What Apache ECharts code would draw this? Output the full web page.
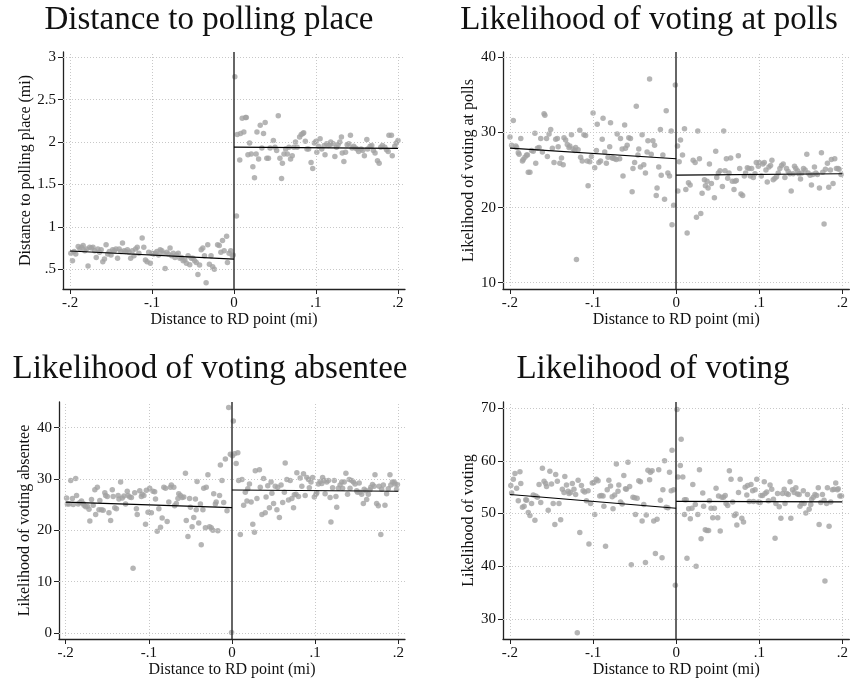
<!DOCTYPE html>
<html>
<head>
<meta charset="utf-8">
<title>Regression discontinuity at the polling-place boundary</title>
<script src="https://cdn.jsdelivr.net/npm/echarts@6/dist/echarts.min.js"></script>
<style>
  html, body { margin: 0; padding: 0; background: #fff; }
  #chart { width: 851px; height: 679px; }
</style>
</head>
<body>
<div id="chart"></div>
<script>
// Shared x ticks: distance to the RD point (mi)
const xTicks = [-0.2, -0.1, 0, 0.1, 0.2];

// Panel titles and axis titles
const panelTitles = ['Distance to polling place', 'Likelihood of voting at polls',
                     'Likelihood of voting absentee', 'Likelihood of voting'];
const yTitles = ['Distance to polling place (mi)', 'Likelihood of voting at polls',
                 'Likelihood of voting absentee', 'Likelihood of voting'];
const xTitle = 'Distance to RD point (mi)';

// Y tick values per panel
const distTicks = [0.5, 1, 1.5, 2, 2.5, 3];
const pollsTicks = [10, 20, 30, 40];
const absTicks = [0, 10, 20, 30, 40];
const voteTicks = [30, 40, 50, 60, 70];

// Binned means: distance to polling place
const distLeft = [[-0.199,0.69],[-0.197,0.60],[-0.195,0.71],[-0.193,0.68],[-0.190,0.77],[-0.188,0.74],[-0.186,0.76],[-0.184,0.78],[-0.182,0.72],[-0.180,0.74],[-0.178,0.54],[-0.176,0.76],[-0.174,0.75],[-0.172,0.76],[-0.170,0.72],[-0.168,0.64],[-0.166,0.74],[-0.164,0.70],[-0.162,0.73],[-0.160,0.59],[-0.158,0.62],[-0.156,0.79],[-0.154,0.68],[-0.152,0.71],[-0.150,0.67],[-0.148,0.73],[-0.146,0.72],[-0.144,0.74],[-0.142,0.63],[-0.140,0.74],[-0.138,0.71],[-0.136,0.81],[-0.134,0.72],[-0.132,0.71],[-0.130,0.73],[-0.128,0.70],[-0.126,0.63],[-0.124,0.72],[-0.122,0.66],[-0.120,0.74],[-0.118,0.76],[-0.116,0.69],[-0.112,0.87],[-0.110,0.76],[-0.108,0.61],[-0.106,0.59],[-0.104,0.70],[-0.102,0.57],[-0.100,0.69],[-0.098,0.68],[-0.096,0.69],[-0.094,0.71],[-0.092,0.67],[-0.090,0.73],[-0.088,0.72],[-0.086,0.69],[-0.084,0.51],[-0.082,0.70],[-0.080,0.68],[-0.078,0.75],[-0.076,0.66],[-0.074,0.69],[-0.072,0.64],[-0.070,0.67],[-0.068,0.69],[-0.066,0.63],[-0.064,0.64],[-0.062,0.60],[-0.060,0.61],[-0.058,0.57],[-0.056,0.66],[-0.054,0.555],[-0.052,0.63],[-0.050,0.63],[-0.048,0.60],[-0.046,0.58],[-0.044,0.44],[-0.042,0.55],[-0.040,0.73],[-0.038,0.75],[-0.036,0.66],[-0.034,0.34],[-0.032,0.79],[-0.030,0.56],[-0.028,0.66],[-0.026,0.53],[-0.024,0.50],[-0.020,0.79],[-0.018,0.78],[-0.016,0.70],[-0.014,0.84],[-0.012,0.72],[-0.009,0.89],[-0.008,0.58],[-0.006,0.69],[-0.004,0.72],[-0.002,0.66],[-0.001,0.67]];
const distRight = [[0.001,2.77],[0.003,1.13],[0.004,2.09],[0.007,1.79],[0.008,2.10],[0.010,2.28],[0.012,2.12],[0.014,2.29],[0.015,2.29],[0.017,1.85],[0.019,1.99],[0.021,1.86],[0.023,1.71],[0.025,1.58],[0.027,1.86],[0.028,2.12],[0.030,1.80],[0.032,2.20],[0.034,1.93],[0.036,2.10],[0.038,2.23],[0.040,1.81],[0.042,1.81],[0.044,1.93],[0.048,2.02],[0.050,1.94],[0.052,1.90],[0.054,2.31],[0.056,1.81],[0.058,1.57],[0.059,1.75],[0.061,1.86],[0.063,1.92],[0.065,1.86],[0.067,1.94],[0.069,1.80],[0.071,1.84],[0.073,1.94],[0.075,2.00],[0.077,1.94],[0.080,2.06],[0.082,2.09],[0.084,2.10],[0.085,2.11],[0.087,2.01],[0.089,1.92],[0.091,1.92],[0.094,1.76],[0.096,1.69],[0.098,1.99],[0.100,2.01],[0.101,1.88],[0.103,1.95],[0.105,2.04],[0.107,1.92],[0.110,1.96],[0.111,1.85],[0.113,1.98],[0.115,1.96],[0.117,1.97],[0.118,2.00],[0.121,1.98],[0.123,1.83],[0.125,1.94],[0.127,1.97],[0.129,2.00],[0.131,2.06],[0.132,1.87],[0.134,1.77],[0.136,1.88],[0.138,1.97],[0.140,1.98],[0.142,2.08],[0.144,1.93],[0.146,1.95],[0.148,1.93],[0.150,1.92],[0.152,1.89],[0.155,1.92],[0.157,1.90],[0.159,1.84],[0.162,2.03],[0.163,1.92],[0.166,1.95],[0.168,1.96],[0.170,1.90],[0.172,1.87],[0.175,1.78],[0.177,1.75],[0.179,1.94],[0.181,1.96],[0.184,1.94],[0.186,1.91],[0.188,1.89],[0.189,2.08],[0.192,2.08],[0.193,1.84],[0.196,1.95],[0.198,1.99],[0.200,2.02]];
const distFitLeft = [[-0.2,0.716],[0,0.62]];
const distFitRight = [[0,1.94],[0.2,1.927]];

// Binned means: likelihood of voting at polls
const pollsLeft = [[-0.200,29.4],[-0.198,28.3],[-0.196,31.6],[-0.193,28.2],[-0.192,28.0],[-0.190,27.3],[-0.189,27.1],[-0.187,29.2],[-0.185,26.2],[-0.184,26.4],[-0.182,26.7],[-0.180,27.0],[-0.179,27.0],[-0.178,24.7],[-0.176,24.7],[-0.174,27.6],[-0.172,27.5],[-0.170,29.9],[-0.169,25.9],[-0.167,27.9],[-0.165,28.0],[-0.163,29.2],[-0.161,27.4],[-0.159,32.5],[-0.158,32.3],[-0.156,29.2],[-0.155,26.8],[-0.153,29.8],[-0.151,30.4],[-0.149,27.9],[-0.147,26.0],[-0.145,29.1],[-0.143,29.2],[-0.142,28.1],[-0.140,25.9],[-0.138,26.6],[-0.136,25.7],[-0.135,29.3],[-0.133,29.0],[-0.131,28.4],[-0.129,28.0],[-0.128,28.2],[-0.126,29.7],[-0.124,27.8],[-0.122,27.6],[-0.121,28.0],[-0.120,13.1],[-0.118,27.7],[-0.116,30.3],[-0.115,26.7],[-0.113,26.2],[-0.111,29.7],[-0.109,29.6],[-0.107,26.2],[-0.106,22.9],[-0.104,26.1],[-0.102,26.8],[-0.100,32.6],[-0.098,25.3],[-0.096,27.6],[-0.095,31.1],[-0.093,26.0],[-0.091,26.2],[-0.089,29.1],[-0.088,31.9],[-0.086,27.4],[-0.084,25.9],[-0.082,26.7],[-0.080,28.1],[-0.079,31.3],[-0.077,26.6],[-0.076,26.6],[-0.074,26.5],[-0.072,26.4],[-0.071,29.8],[-0.068,26.5],[-0.067,29.2],[-0.065,27.8],[-0.064,24.2],[-0.062,31.0],[-0.061,27.9],[-0.059,28.3],[-0.057,29.3],[-0.055,29.2],[-0.053,22.1],[-0.052,25.2],[-0.050,26.0],[-0.048,33.5],[-0.046,27.0],[-0.045,27.8],[-0.043,25.4],[-0.041,29.7],[-0.039,25.7],[-0.037,24.6],[-0.035,27.4],[-0.034,28.9],[-0.032,37.1],[-0.030,27.1],[-0.028,28.9],[-0.026,28.3],[-0.024,21.6],[-0.023,22.6],[-0.021,25.4],[-0.019,30.4],[-0.018,24.3],[-0.016,27.0],[-0.014,21.1],[-0.012,32.9],[-0.010,24.6],[-0.008,24.2],[-0.006,30.2],[-0.005,17.7],[-0.003,20.3],[-0.001,36.3]];
const pollsRight = [[0.0016,28.2],[0.0052,29.0],[0.0036,26.1],[0.0076,27.0],[0.010,30.5],[0.002,22.2],[0.0116,22.4],[0.0148,23.3],[0.0168,23.0],[0.0204,26.3],[0.0228,26.0],[0.026,30.2],[0.028,26.5],[0.0244,18.7],[0.0296,19.2],[0.0132,16.6],[0.0312,21.9],[0.034,23.7],[0.0352,22.9],[0.0372,23.5],[0.0384,22.6],[0.040,25.8],[0.0424,23.2],[0.046,21.3],[0.0476,27.5],[0.0488,24.0],[0.0508,24.6],[0.0528,24.9],[0.0556,22.8],[0.0572,30.2],[0.0588,24.9],[0.0604,26.5],[0.062,23.9],[0.0636,24.6],[0.0656,26.6],[0.0676,23.5],[0.0696,22.4],[0.0708,23.5],[0.0724,23.6],[0.0748,26.9],[0.0764,25.2],[0.078,21.8],[0.080,21.6],[0.082,24.2],[0.0836,24.6],[0.0856,25.3],[0.0876,25.2],[0.0892,24.2],[0.0908,25.2],[0.0928,24.0],[0.0948,24.5],[0.0964,26.0],[0.0988,25.5],[0.100,26.0],[0.1024,24.2],[0.1044,25.8],[0.106,26.0],[0.108,25.0],[0.1096,23.4],[0.1116,25.4],[0.1136,25.6],[0.1152,26.3],[0.1168,23.7],[0.1188,23.9],[0.1208,24.1],[0.1228,24.6],[0.1248,25.2],[0.1268,25.6],[0.1288,25.8],[0.1308,24.0],[0.1328,25.2],[0.1348,24.8],[0.1368,24.5],[0.1384,22.2],[0.1408,24.5],[0.1424,25.5],[0.144,25.2],[0.146,24.9],[0.1476,24.5],[0.1496,23.8],[0.1512,24.6],[0.1532,25.2],[0.1552,25.0],[0.1572,27.1],[0.1588,24.6],[0.1612,24.3],[0.1628,23.0],[0.1644,24.4],[0.1664,25.4],[0.168,24.6],[0.170,24.4],[0.1724,22.6],[0.1748,27.3],[0.1764,24.7],[0.178,17.8],[0.1796,25.1],[0.182,25.9],[0.1836,22.7],[0.1856,25.0],[0.1868,26.4],[0.1888,23.2],[0.1908,26.5],[0.1928,25.2],[0.1948,25.2],[0.196,25.1],[0.1984,24.4]];
const pollsFitLeft = [[-0.2,27.9],[0,26.5]];
const pollsFitRight = [[0,24.33],[0.2,24.5]];

// Binned means: likelihood of voting absentee
const absLeft = [[-0.199,26.3],[-0.198,25.1],[-0.196,25.1],[-0.194,29.7],[-0.192,26.2],[-0.191,25.0],[-0.188,30.1],[-0.187,26.8],[-0.185,25.1],[-0.183,25.4],[-0.181,25.7],[-0.179,25.2],[-0.178,24.9],[-0.176,24.6],[-0.174,24.7],[-0.172,24.1],[-0.171,21.8],[-0.169,26.0],[-0.167,24.9],[-0.165,27.9],[-0.164,23.1],[-0.162,28.4],[-0.160,24.0],[-0.159,25.8],[-0.157,24.0],[-0.155,23.9],[-0.153,27.3],[-0.152,26.8],[-0.150,26.6],[-0.148,23.4],[-0.146,21.9],[-0.144,27.9],[-0.143,26.6],[-0.141,24.4],[-0.139,24.2],[-0.137,26.8],[-0.136,26.1],[-0.134,29.4],[-0.132,26.3],[-0.130,26.7],[-0.128,25.1],[-0.126,27.6],[-0.125,26.8],[-0.123,26.5],[-0.121,26.4],[-0.119,12.6],[-0.117,27.3],[-0.115,24.2],[-0.114,23.1],[-0.111,27.7],[-0.109,26.6],[-0.108,27.0],[-0.106,26.8],[-0.104,21.2],[-0.103,27.8],[-0.101,23.5],[-0.099,28.2],[-0.097,23.4],[-0.095,27.6],[-0.093,27.5],[-0.092,26.1],[-0.090,19.8],[-0.088,24.2],[-0.086,20.6],[-0.084,22.4],[-0.082,28.4],[-0.080,28.2],[-0.078,21.7],[-0.076,25.5],[-0.074,28.4],[-0.073,28.8],[-0.070,28.4],[-0.069,24.8],[-0.067,25.2],[-0.065,26.2],[-0.064,27.1],[-0.062,26.8],[-0.060,26.4],[-0.058,26.5],[-0.056,31.1],[-0.055,21.9],[-0.053,18.8],[-0.051,26.2],[-0.050,24.5],[-0.048,20.7],[-0.046,22.5],[-0.044,26.1],[-0.043,24.0],[-0.042,29.5],[-0.040,21.4],[-0.038,25.1],[-0.037,17.2],[-0.035,24.0],[-0.034,28.2],[-0.032,20.5],[-0.031,28.4],[-0.029,30.8],[-0.027,20.7],[-0.025,20.5],[-0.023,20.0],[-0.022,27.1],[-0.020,25.1],[-0.019,25.5],[-0.017,19.9],[-0.015,26.8],[-0.014,32.7],[-0.012,29.7],[-0.010,25.4],[-0.008,33.9],[-0.006,23.8],[-0.004,43.9],[-0.002,34.8],[-0.0005,0.1]];
const absRight = [[0.0016,41.3],[0.0005,34.5],[0.003,34.9],[0.005,33.0],[0.007,35.1],[0.008,29.7],[0.010,19.2],[0.012,29.9],[0.014,24.9],[0.016,27.4],[0.018,25.7],[0.019,28.1],[0.021,29.0],[0.023,25.5],[0.025,21.2],[0.027,19.6],[0.028,31.6],[0.030,26.2],[0.033,31.8],[0.034,28.4],[0.036,23.1],[0.038,30.1],[0.040,23.4],[0.041,26.5],[0.043,28.7],[0.045,24.4],[0.047,29.4],[0.048,27.2],[0.050,25.2],[0.052,28.6],[0.054,24.0],[0.055,28.4],[0.057,22.5],[0.059,28.8],[0.061,25.4],[0.063,27.4],[0.064,33.1],[0.066,29.9],[0.068,25.9],[0.070,29.7],[0.072,26.2],[0.074,24.4],[0.075,26.9],[0.077,27.0],[0.078,31.2],[0.080,26.6],[0.082,30.2],[0.084,28.6],[0.086,31.0],[0.088,26.8],[0.090,30.3],[0.092,29.9],[0.093,28.3],[0.095,29.4],[0.097,30.3],[0.099,26.5],[0.101,27.0],[0.102,27.3],[0.104,29.0],[0.106,29.5],[0.108,29.1],[0.109,30.3],[0.111,29.7],[0.112,27.1],[0.114,29.4],[0.116,29.7],[0.118,26.4],[0.119,21.6],[0.121,28.3],[0.123,29.7],[0.125,26.6],[0.126,24.5],[0.128,28.2],[0.130,28.8],[0.132,29.4],[0.133,28.2],[0.135,29.4],[0.137,31.1],[0.139,27.0],[0.141,29.9],[0.142,28.2],[0.144,29.7],[0.146,29.4],[0.148,29.0],[0.150,27.7],[0.151,27.4],[0.153,29.2],[0.154,27.4],[0.156,27.0],[0.158,25.2],[0.159,28.0],[0.161,27.7],[0.162,26.0],[0.164,27.0],[0.166,27.9],[0.167,28.4],[0.169,28.9],[0.171,28.6],[0.172,30.8],[0.174,25.2],[0.176,24.8],[0.177,28.6],[0.179,19.2],[0.180,28.0],[0.182,28.8],[0.184,24.9],[0.186,27.1],[0.188,28.1],[0.190,30.8],[0.191,28.8],[0.193,29.4],[0.195,29.4],[0.196,29.0],[0.198,28.0],[0.199,28.9]];
const absFitLeft = [[-0.2,25.5],[0,24.4]];
const absFitRight = [[0,27.85],[0.2,27.6]];

// Binned means: likelihood of voting
const voteLeft = [[-0.199,55.3],[-0.198,53.9],[-0.196,56.5],[-0.194,57.6],[-0.192,54.8],[-0.190,52.4],[-0.188,57.9],[-0.187,55.7],[-0.185,51.2],[-0.183,51.4],[-0.181,52.6],[-0.180,52.5],[-0.178,50.2],[-0.176,49.6],[-0.174,51.9],[-0.172,53.5],[-0.170,48.7],[-0.169,53.3],[-0.167,53.1],[-0.165,55.5],[-0.163,52.1],[-0.161,58.6],[-0.159,56.1],[-0.157,55.7],[-0.156,55.1],[-0.154,50.6],[-0.152,58.0],[-0.150,55.6],[-0.148,51.9],[-0.146,47.9],[-0.145,57.4],[-0.143,56.1],[-0.141,51.9],[-0.139,48.8],[-0.137,54.6],[-0.135,54.0],[-0.134,57.0],[-0.132,55.4],[-0.130,54.2],[-0.129,53.8],[-0.127,54.0],[-0.125,55.7],[-0.123,54.6],[-0.121,53.6],[-0.119,27.4],[-0.118,56.3],[-0.116,46.4],[-0.114,55.3],[-0.112,54.3],[-0.110,54.1],[-0.108,52.4],[-0.106,54.3],[-0.105,44.2],[-0.103,51.9],[-0.101,55.8],[-0.099,55.9],[-0.098,49.8],[-0.096,56.5],[-0.094,56.2],[-0.092,53.3],[-0.090,53.4],[-0.088,53.3],[-0.087,51.4],[-0.085,43.8],[-0.083,54.5],[-0.081,56.3],[-0.079,55.2],[-0.077,53.2],[-0.076,50.9],[-0.074,53.5],[-0.072,59.4],[-0.070,54.2],[-0.069,55.4],[-0.067,52.2],[-0.065,51.8],[-0.063,57.2],[-0.061,54.7],[-0.060,54.6],[-0.058,59.7],[-0.056,55.1],[-0.054,40.3],[-0.052,53.1],[-0.050,53.0],[-0.049,49.8],[-0.047,52.9],[-0.045,56.2],[-0.043,56.0],[-0.041,48.6],[-0.039,51.7],[-0.037,40.7],[-0.036,49.7],[-0.034,58.2],[-0.032,56.4],[-0.031,57.8],[-0.029,58.1],[-0.027,48.6],[-0.025,42.4],[-0.023,48.9],[-0.021,58.3],[-0.019,52.5],[-0.017,41.6],[-0.016,54.5],[-0.014,60.0],[-0.012,51.2],[-0.010,51.1],[-0.008,57.8],[-0.006,54.3],[-0.005,62.0],[-0.003,54.5],[-0.001,36.4]];
const voteRight = [[0.001,69.7],[0.002,56.9],[0.005,59.1],[0.006,64.1],[0.008,56.9],[0.010,52.6],[0.012,52.6],[0.010,49.8],[0.013,41.5],[0.015,50.9],[0.017,49.0],[0.019,51.0],[0.020,55.5],[0.023,51.7],[0.024,40.0],[0.026,49.8],[0.028,58.3],[0.030,45.2],[0.032,53.9],[0.033,51.4],[0.035,46.9],[0.037,46.8],[0.039,46.8],[0.040,52.4],[0.042,51.0],[0.044,49.2],[0.046,51.0],[0.048,54.8],[0.050,49.2],[0.051,53.3],[0.053,46.7],[0.055,53.1],[0.057,53.1],[0.059,53.4],[0.060,51.9],[0.062,51.5],[0.064,58.1],[0.066,56.5],[0.068,52.2],[0.070,49.6],[0.072,49.9],[0.073,47.8],[0.075,54.0],[0.077,56.5],[0.079,49.1],[0.081,48.4],[0.083,55.0],[0.085,53.5],[0.086,55.3],[0.088,52.3],[0.090,55.5],[0.092,54.3],[0.093,52.3],[0.095,54.5],[0.097,56.5],[0.099,52.2],[0.101,52.1],[0.102,53.4],[0.104,53.4],[0.106,56.0],[0.107,53.8],[0.109,54.1],[0.111,52.4],[0.113,55.4],[0.115,54.6],[0.117,52.7],[0.119,45.3],[0.120,51.9],[0.122,53.8],[0.124,51.3],[0.126,49.1],[0.128,53.8],[0.130,54.6],[0.131,51.9],[0.133,53.8],[0.135,53.6],[0.137,56.0],[0.138,49.1],[0.140,54.5],[0.142,54.0],[0.144,54.9],[0.146,53.7],[0.148,53.6],[0.149,51.4],[0.151,51.9],[0.153,54.3],[0.154,51.9],[0.156,50.1],[0.158,53.6],[0.160,50.8],[0.162,51.7],[0.163,52.7],[0.165,53.1],[0.167,53.6],[0.169,53.4],[0.171,54.9],[0.172,47.9],[0.174,52.1],[0.176,53.6],[0.178,52.5],[0.179,37.2],[0.181,51.9],[0.182,54.9],[0.184,47.6],[0.186,52.2],[0.188,54.5],[0.190,54.6],[0.192,55.8],[0.194,54.5],[0.195,54.7],[0.197,53.3],[0.199,53.3]];
const voteFitLeft = [[-0.2,53.6],[0,51.0]];
const voteFitRight = [[0,52.3],[0.2,52.2]];

const FONT = '"Liberation Serif", "Times New Roman", serif';
const DOT = '#a3a3a3';

// Plot regions for the 2x2 layout
const grids = [
  { left: 63,  top: 52,  width: 342, height: 237 },
  { left: 503, top: 52,  width: 347, height: 237 },
  { left: 59,  top: 402, width: 346, height: 237 },
  { left: 503, top: 402, width: 347, height: 237 }
];
const xRanges = [[-0.20854, 0.20854], [-0.2084, 0.2084], [-0.2081, 0.2081], [-0.2084, 0.2084]];
const yRanges = [[0.2677, 3.0625], [9.161, 40.705], [-1.168, 44.985], [26.21, 71.14]];
const yTickSets = [distTicks, pollsTicks, absTicks, voteTicks];
const yNameGaps = [28, 22, 22, 22];
const titleCenters = [[209, 20], [649, 20], [210, 369], [653, 369]];

const panels = [
  [distLeft, distRight, distFitLeft, distFitRight],
  [pollsLeft, pollsRight, pollsFitLeft, pollsFitRight],
  [absLeft, absRight, absFitLeft, absFitRight],
  [voteLeft, voteRight, voteFitLeft, voteFitRight]
];

// Stata-style number labels: drop the leading zero ("0.5" -> ".5")
function fmt(v) {
  const s = String(+Number(v).toFixed(4));
  return s.replace(/^(-?)0\./, '$1.');
}

const axisLine = { show: true, onZero: false, lineStyle: { color: '#222', width: 1.3 } };
const axisTick = (vals) => ({ show: true, inside: false, length: 5, customValues: vals, lineStyle: { color: '#222', width: 1 } });

const xAxes = [], yAxes = [], series = [];
grids.forEach((g, i) => {
  xAxes.push({
    type: 'value', gridIndex: i, min: xRanges[i][0], max: xRanges[i][1],
    axisLine: axisLine, axisTick: axisTick(xTicks),
    axisLabel: { customValues: xTicks, formatter: fmt, fontFamily: FONT, fontSize: 15, color: '#111', margin: 7 },
    splitLine: { show: false },
    name: xTitle, nameLocation: 'middle', nameGap: 22,
    nameTextStyle: { fontFamily: FONT, fontSize: 16, color: '#111' }
  });
  yAxes.push({
    type: 'value', gridIndex: i, min: yRanges[i][0], max: yRanges[i][1],
    axisLine: axisLine, axisTick: axisTick(yTickSets[i]),
    axisLabel: { customValues: yTickSets[i], formatter: fmt, fontFamily: FONT, fontSize: 15, color: '#111', margin: 7 },
    splitLine: { show: false },
    name: yTitles[i], nameLocation: 'middle', nameGap: yNameGaps[i],
    nameTextStyle: { fontFamily: FONT, fontSize: 16, color: '#111' }
  });

  // Dotted reference grid at the tick positions
  const gridMarks = xTicks.filter(v => v !== 0).map(v => ({ xAxis: v }))
    .concat(yTickSets[i].map(v => ({ yAxis: v })));
  series.push({
    type: 'line', xAxisIndex: i, yAxisIndex: i, data: [], z: 1, silent: true,
    markLine: {
      silent: true, symbol: ['none', 'none'], label: { show: false },
      lineStyle: { type: [1, 2], color: '#c8c8c8', width: 1 },
      emphasis: { disabled: true }, animation: false, data: gridMarks
    }
  });
  // Solid cutoff line at the RD point
  series.push({
    type: 'line', xAxisIndex: i, yAxisIndex: i, data: [], z: 4, silent: true,
    markLine: {
      silent: true, symbol: ['none', 'none'], label: { show: false },
      lineStyle: { type: 'solid', color: '#333', width: 1.5 },
      emphasis: { disabled: true }, animation: false, data: [{ xAxis: 0 }]
    }
  });

  const [left, right, fitL, fitR] = panels[i];
  [left, right].forEach(d => series.push({
    type: 'scatter', xAxisIndex: i, yAxisIndex: i, data: d, z: 3,
    symbol: 'circle', symbolSize: 5.5, itemStyle: { color: DOT }, silent: true
  }));
  [fitL, fitR].forEach(d => series.push({
    type: 'line', xAxisIndex: i, yAxisIndex: i, data: d, z: 5,
    symbol: 'none', lineStyle: { color: '#000', width: 1.2 }, silent: true
  }));
});

const chart = echarts.init(document.getElementById('chart'), null, { renderer: 'canvas' });
chart.setOption({
  backgroundColor: '#fff',
  animation: false,
  grid: grids,
  xAxis: xAxes,
  yAxis: yAxes,
  series: series,
  graphic: panelTitles.map((t, i) => ({
    type: 'text', x: titleCenters[i][0], y: titleCenters[i][1],
    style: { text: t, fontFamily: FONT, fontSize: 33, fill: '#111', align: 'center', verticalAlign: 'middle' }
  }))
});
</script>
</body>
</html>
